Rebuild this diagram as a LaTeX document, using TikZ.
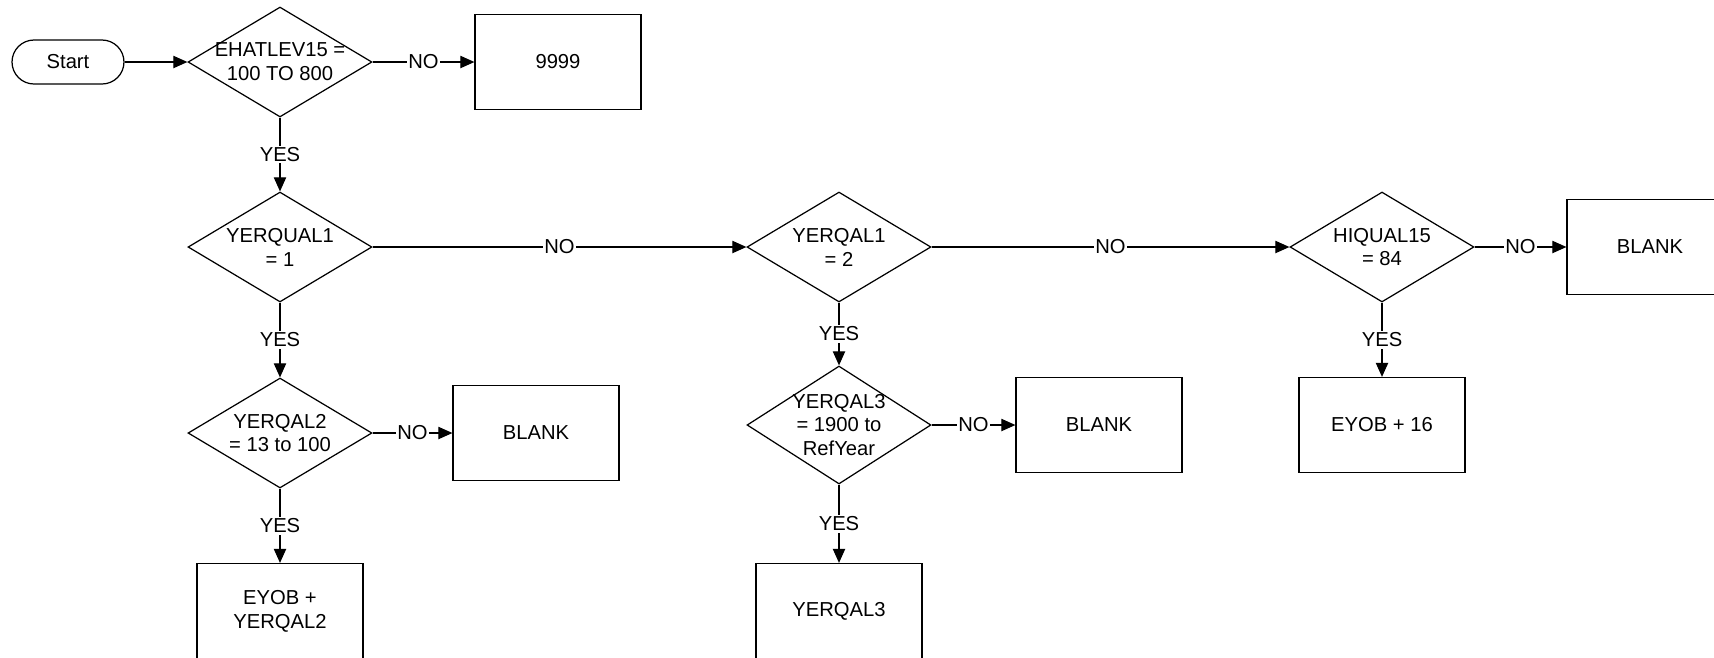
\documentclass[tikz,border=0pt]{standalone}
\usepackage{fontspec}
\setmainfont{Liberation Sans}
\usetikzlibrary{arrows.meta,shapes.geometric}

\begin{document}
\begin{tikzpicture}[x=0.02cm, y=-0.02cm, >={Triangle[length=8pt, width=7pt]}, line width=0.7pt,
    font=\fontsize{11.5}{13.6}\selectfont,
    startbox/.style={draw, rounded corners=0.44cm, minimum width=2.24cm, minimum height=0.88cm, inner sep=0pt},
    box/.style={draw, minimum width=3.32cm, minimum height=1.9cm, inner sep=0pt, align=center},
    decision/.style={draw, diamond, minimum width=3.68cm, minimum height=2.2cm, inner sep=0pt},
    txt/.style={align=center, inner sep=0pt},
    yn/.style={midway, fill=white, inner sep=1pt}]
    % 画面范围
    \useasboundingbox (0,0) rectangle (1714,657);
    \clip (0,0) rectangle (1714,657);

    % 第一列
    \node[startbox] (start) at (68,62) {Start};
    \node[decision, label={[txt]center:EHATLEV15 =\\100 TO 800}] (ehat) at (280,62) {};
    \node[box] (nine) at (558,62) {9999};
    \node[decision, label={[txt]center:YERQUAL1\\= 1}] (yq1) at (280,247) {};
    \node[decision, label={[txt]center:YERQAL2\\= 13 to 100}] (yq2) at (280,433) {};
    \node[box] (blankA) at (536,433) {BLANK};
    \node[box] (eyobA) at (280,611) {EYOB +\\YERQAL2};

    % 第二列
    \node[decision, label={[txt]center:YERQAL1\\= 2}] (yqb) at (839,247) {};
    \node[decision, minimum height=2.36cm, label={[txt]center:YERQAL3\\= 1900 to\\RefYear}] (yq3) at (839,425) {};
    \node[box] (blankB) at (1099,425) {BLANK};
    \node[box] (yq3out) at (839,611) {YERQAL3};

    % 第三列
    \node[decision, label={[txt]center:HIQUAL15\\= 84}] (hiq) at (1382,247) {};
    \node[box] (blankC) at (1650,247) {BLANK};
    \node[box] (eyobB) at (1382,425) {EYOB + 16};

    % 连线
    \draw[->] (start) -- (ehat);
    \draw[->] (ehat) -- (nine) node[yn] {NO};
    \draw[->] (ehat) -- (yq1) node[yn] {YES};
    \draw[->] (yq1) -- (yqb) node[yn] {NO};
    \draw[->] (yq1) -- (yq2) node[yn] {YES};
    \draw[->] (yq2) -- (blankA) node[yn] {NO};
    \draw[->] (yq2) -- (eyobA) node[yn] {YES};
    \draw[->] (yqb) -- (hiq) node[yn] {NO};
    \draw[->] (yqb) -- (yq3) node[yn] {YES};
    \draw[->] (yq3) -- (blankB) node[yn] {NO};
    \draw[->] (yq3) -- (yq3out) node[yn] {YES};
    \draw[->] (hiq) -- (blankC) node[yn] {NO};
    \draw[->] (hiq) -- (eyobB) node[yn] {YES};
\end{tikzpicture}
\end{document}
